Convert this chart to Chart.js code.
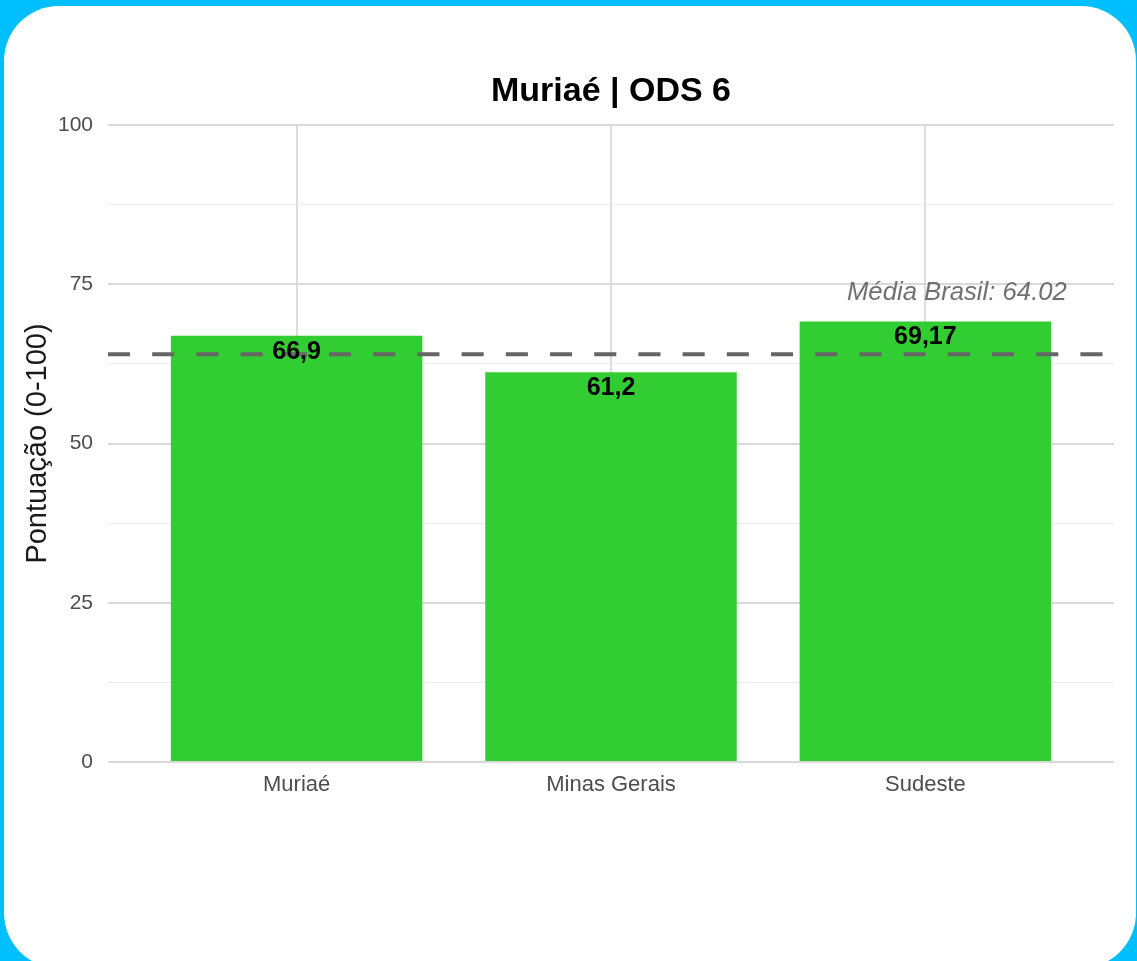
<!DOCTYPE html>
<html>
<head>
<meta charset="utf-8">
<script src="https://cdn.jsdelivr.net/npm/chart.js@4/dist/chart.umd.min.js"></script>
<style>
  html, body { margin: 0; padding: 0; width: 1137px; height: 961px; overflow: hidden; background: #00BFFF; }
  #card { position: absolute; left: 4px; top: 6px; width: 1132px; height: 962px; background: #ffffff; border-radius: 55px; }
  #wrap { position: absolute; left: 0; top: 0; width: 1137px; height: 961px; }
</style>
</head>
<body>
<div id="card"></div>
<div id="wrap"><canvas id="c" width="1137" height="961"></canvas></div>
<script>
const chartTitle = 'Muriaé | ODS 6';
const categories = ['Muriaé', 'Minas Gerais', 'Sudeste'];
const values = [66.9, 61.2, 69.17];
const valueLabels = ['66,9', '61,2', '69,17'];
const mediaBrasil = 64.02;
const mediaLabel = 'Média Brasil: 64.02';
const yTicks = [0, 25, 50, 75, 100];
const yTitle = 'Pontuação (0-100)';

const FONT = '"Liberation Sans", Arial, sans-serif';

const overlay = {
  id: 'overlay',
  afterDatasetsDraw(chart) {
    const { ctx, chartArea, scales } = chart;
    const y = scales.y.getPixelForValue(mediaBrasil);
    ctx.save();
    ctx.strokeStyle = '#666666';
    ctx.lineWidth = 4;
    ctx.setLineDash([22.1, 22.1]);
    ctx.beginPath();
    ctx.moveTo(chartArea.left, y);
    ctx.lineTo(chartArea.right, y);
    ctx.stroke();
    ctx.setLineDash([]);
    // value labels
    ctx.fillStyle = '#000000';
    ctx.font = 'bold 25px ' + FONT;
    ctx.textAlign = 'center';
    ctx.textBaseline = 'middle';
    values.forEach((v, i) => {
      const px = scales.x.getPixelForValue(i + 1);
      const py = scales.y.getPixelForValue(v);
      ctx.fillText(valueLabels[i], px, py + 16);
    });
    // media label
    ctx.fillStyle = '#707070';
    ctx.font = 'italic 25.7px ' + FONT;
    ctx.textAlign = 'right';
    ctx.fillText(mediaLabel, scales.x.getPixelForValue(3.45), scales.y.getPixelForValue(73.7));
    // title
    ctx.fillStyle = '#000000';
    ctx.font = 'bold 34px ' + FONT;
    ctx.textAlign = 'center';
    ctx.fillText(chartTitle, (chartArea.left + chartArea.right) / 2, 92);
    ctx.restore();
  }
};

new Chart(document.getElementById('c'), {
  type: 'bar',
  data: {
    datasets: [{
      data: values.map((v, i) => ({ x: i + 1, y: v })),
      backgroundColor: '#32CD32',
      borderWidth: 0,
      categoryPercentage: 0.8,
      barPercentage: 1.0
    }]
  },
  options: {
    responsive: false,
    animation: false,
    devicePixelRatio: 1,
    layout: { padding: { top: 125, right: 23, left: 0, bottom: 0 } },
    plugins: { legend: { display: false }, tooltip: { enabled: false }, title: { display: false } },
    scales: {
      x: {
        type: 'linear',
        min: 0.4,
        max: 3.6,
        offset: false,
        afterBuildTicks: (axis) => { axis.ticks = categories.map((c, i) => ({ value: i + 1 })); },
        afterFit: (axis) => { axis.height = 961 - 762; },
        border: { display: false },
        grid: { color: '#dcdcdc', lineWidth: 2, drawTicks: false, offset: false },
        ticks: {
          padding: 10,
          color: '#4d4d4d',
          font: { family: FONT, size: 22 },
          callback: (v) => categories[Math.round(v) - 1] || ''
        }
      },
      y: {
        min: 0,
        max: 100,
        afterBuildTicks: (axis) => {
          const t = [];
          for (let v = 0; v <= 100; v += 12.5) t.push({ value: v });
          axis.ticks = t;
        },
        afterFit: (axis) => { axis.width = 108; },
        border: { display: false },
        grid: {
          drawTicks: false,
          color: (c) => (yTicks.includes(c.tick.value) ? '#d9d9d9' : '#ebebeb'),
          lineWidth: (c) => (yTicks.includes(c.tick.value) ? 2 : 1)
        },
        ticks: {
          padding: 15,
          color: '#4d4d4d',
          font: { family: FONT, size: 21 },
          callback: (v) => (yTicks.includes(v) ? String(v) : '')
        },
        title: {
          display: true,
          text: yTitle,
          color: '#1a1a1a',
          font: { family: FONT, size: 29 },
          padding: { top: 21, bottom: 0 }
        }
      }
    }
  },
  plugins: [overlay]
});
</script>
</body>
</html>
